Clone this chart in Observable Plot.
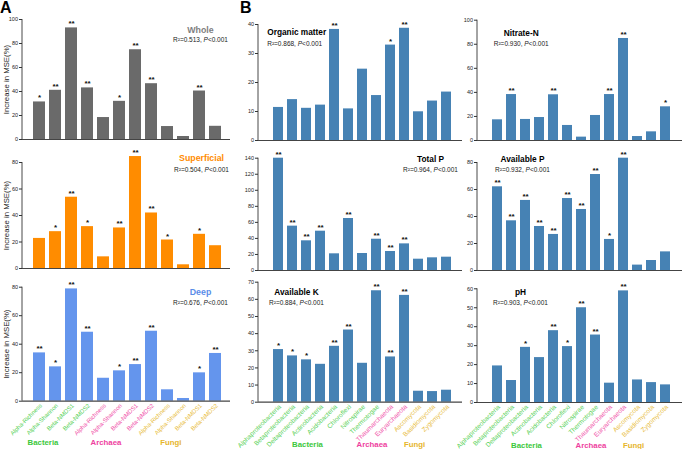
<!DOCTYPE html>
<html><head><meta charset="utf-8">
<script src="https://cdn.jsdelivr.net/npm/d3@7"></script>
<script src="https://cdn.jsdelivr.net/npm/@observablehq/plot@0.6"></script>
<style>
body{margin:0;background:#fff;font-family:"Liberation Sans",Arial,sans-serif}
#wrap{position:relative;width:685px;height:449px;overflow:hidden;background:#fff}
.p{position:absolute}
.lab{position:absolute;font-weight:bold;font-size:16px;line-height:16px;color:#000}
</style></head><body><div id="wrap"><div class="lab" style="left:0px;top:0px">A</div><div class="lab" style="left:240px;top:0px">B</div></div>
<script>
// ---------- Panel A data ----------
const taxaA = ["Bacteria", "Archaea", "Fungi"];
const indicesA = ["Alpha-Richness", "Alpha-Shannon", "Beta-NMDS1", "Beta-NMDS2"];
const wholeValues = [31.3, 41, 93, 43, 18.3, 31.8, 74.8, 46.5, 10.8, 2.5, 40.4, 11];
const wholeSig = ["*", "**", "**", "**", "", "*", "**", "**", "", "", "**", ""];
const superficialValues = [22.7, 27.8, 53.8, 31.6, 8.8, 30.6, 84.5, 41.9, 21.5, 2.8, 25.8, 17.2];
const superficialSig = ["", "*", "**", "*", "", "**", "**", "**", "*", "", "*", ""];
const deepValues = [33.9, 24.1, 78.8, 48.4, 16.1, 21.3, 25.7, 49.1, 8, 1.9, 19.9, 33.5];
const deepSig = ["**", "*", "**", "**", "", "*", "**", "**", "", "", "*", "**"];

// ---------- Panel B data ----------
const taxaB = ["Alphaproteobacteria", "Betaproteobacteria", "Deltaproteobacteria", "Actinobacteria", "Acidobacteria", "Chloroflexi", "Nitrospirae", "Thermotogae", "Thaumarchaeota", "Euryarchaeota", "Ascomycota", "Basidiomycota", "Zygomycota"];
const taxaBGroup = ["Bacteria", "Bacteria", "Bacteria", "Bacteria", "Bacteria", "Bacteria", "Bacteria", "Bacteria", "Archaea", "Archaea", "Fungi", "Fungi", "Fungi"];
const organicValues = [11.4, 14.1, 11.1, 12.2, 38.3, 10.9, 24.6, 15.5, 32.9, 38.7, 9.9, 13.6, 16.7];
const organicSig = ["", "", "", "", "**", "", "", "", "*", "**", "", "", ""];
const nitrateValues = [17.2, 38.2, 17.5, 19.1, 38, 12.5, 2.8, 20.8, 38.2, 84.8, 3.3, 7.2, 28];
const nitrateSig = ["", "**", "", "", "**", "", "", "", "**", "**", "", "", "*"];
const totalPValues = [140, 55.3, 37, 49, 20.8, 64.8, 21.2, 39, 23.7, 33.2, 14.1, 15.8, 16.6];
const totalPSig = ["**", "**", "**", "**", "", "**", "", "**", "**", "**", "", "", ""];
const availPValues = [62, 36.8, 51.9, 32.6, 26.7, 53.3, 45.2, 71.1, 23, 83.2, 4, 7.4, 13.8];
const availPSig = ["**", "**", "**", "**", "**", "**", "**", "**", "*", "**", "", "", ""];
const availKValues = [30.7, 27, 24.7, 22.1, 32.6, 42.1, 22.7, 65, 26.4, 62.3, 6.4, 6.2, 7];
const availKSig = ["*", "*", "*", "", "**", "**", "", "**", "**", "**", "", "", ""];
const pHValues = [19.3, 11.6, 29.1, 23.7, 37.9, 29.5, 50, 35.6, 10.2, 58.9, 11.9, 10.5, 9.3];
const pHSig = ["", "", "*", "", "**", "*", "**", "**", "", "**", "", "", ""];

const groupColors = {Bacteria: "#3cc83c", Archaea: "#ee3fa0", Fungi: "#e6b52c"};
const labelColors = {Bacteria: "#55d055", Archaea: "#f050a8", Fungi: "#e8bc3c"};

const catsA = taxaA.flatMap(g => indicesA.map(m => ({key: g + " " + m, label: m, group: g})));
const catsB = taxaB.map((t, i) => ({key: t, label: t, group: taxaBGroup[i]}));

const FONT = "Liberation Sans, Arial, Helvetica, sans-serif";
const wrap = document.getElementById("wrap");

function panel(cfg) {
  const rows = cfg.cats.map((c, i) => ({...c, value: cfg.values[i], sig: cfg.sigs[i]}));
  const yMax = cfg.yTicks[cfg.yTicks.length - 1];
  const marks = [
    Plot.barY(rows, {x: "key", y: "value", fill: cfg.fill}),
    Plot.ruleY([0], {stroke: "#444", strokeWidth: 1.2}),
    (index, scales, values, dims) => {
      const l = d3.create("svg:line")
        .attr("x1", dims.marginLeft).attr("x2", dims.marginLeft)
        .attr("y1", scales.y(yMax)).attr("y2", scales.y(0))
        .attr("stroke", "#333").attr("stroke-width", 0.9);
      return l.node();
    },
    Plot.axisY({ticks: cfg.yTicks, tickSize: 3, tickPadding: 1.5, fontSize: 5.5, fill: "#222", stroke: "#333", label: null}),
    Plot.text(rows, {x: "key", y: "value", text: "sig", dy: -1.5, lineAnchor: "bottom", fontWeight: "bold", fontSize: 8, fill: "#111"}),
    Plot.text([cfg.title], {frameAnchor: "top-left", dx: cfg.tdx, dy: cfg.tdy, textAnchor: cfg.tAnchor || "middle", lineAnchor: "middle", fontWeight: "bold", fontSize: cfg.tSize || 8.3, fill: cfg.tColor || "#000", text: d => d}),
    Plot.text([cfg.r2], {frameAnchor: "top-left", dx: cfg.tdx, dy: cfg.rdy, textAnchor: cfg.tAnchor || "middle", lineAnchor: "middle", fontSize: 6.5, fill: "#222", text: d => d})
  ];
  if (cfg.yLabel) {
    marks.push(Plot.text([cfg.yLabel], {frameAnchor: "left", dx: -16, rotate: -90, textAnchor: "middle", lineAnchor: "middle", fontSize: 7.8, fill: "#222", text: d => d}));
  }
  if (cfg.showLabels) {
    marks.push(Plot.text(rows, {x: "key", text: "label", frameAnchor: "bottom", rotate: -45, textAnchor: "end", lineAnchor: "middle", dy: 3.5, dx: 1.5, fontSize: cfg.labelSize, fill: d => labelColors[d.group]}));
    for (const g of cfg.groupLabels) {
      marks.push(Plot.text([g], {x: "at", text: "group", frameAnchor: "bottom", dx: g.dx, dy: cfg.groupDy, textAnchor: "middle", lineAnchor: "middle", fontWeight: "bold", fontSize: 7.8, fill: d => groupColors[d.group]}));
    }
  }
  const svg = Plot.plot({
    width: cfg.width, height: cfg.height,
    marginLeft: cfg.ml, marginRight: cfg.mr, marginTop: cfg.mt, marginBottom: cfg.mb,
    x: {type: "band", domain: rows.map(d => d.key), range: cfg.range, padding: 0.27, axis: null},
    y: {domain: [0, yMax], axis: null},
    style: {background: "transparent", overflow: "visible", fontFamily: FONT},
    marks
  });
  // italic P in R² lines
  d3.select(svg).selectAll("text").each(function () {
    const t = this.textContent;
    const m = t.match(/^(R²=[\d.]+, )P(<[\d.]+)$/);
    if (m && this.childElementCount === 0) {
      const s = d3.select(this);
      s.text(null);
      s.append("tspan").text(m[1]);
      s.append("tspan").attr("font-style", "italic").text("P");
      s.append("tspan").text(m[2]);
    }
  });
  const div = document.createElement("div");
  div.className = "p";
  div.style.left = cfg.left + "px";
  div.style.top = cfg.top + "px";
  div.appendChild(svg);
  wrap.appendChild(div);
}

const ticks = (max, step) => d3.range(0, max + step / 2, step);

// Panel A
const A = {cats: catsA, left: 0, width: 232, ml: 22, mr: 2, range: [26.8, 226.6], yLabel: "Increase in MSE(%)", tSize: 8.8};
panel({...A, top: 0, height: 142, mt: 19, mb: 3, values: wholeValues, sigs: wholeSig, fill: "#6a6a6a", yTicks: ticks(100, 20),
  title: "Whole", tColor: "#7f7f7f", r2: "R²=0.513, P<0.001", tdx: 178, tdy: 11, rdy: 20});
panel({...A, top: 145, height: 126, mt: 17, mb: 3, values: superficialValues, sigs: superficialSig, fill: "#ff8c00", yTicks: ticks(80, 20),
  title: "Superficial", tColor: "#ff8c00", r2: "R²=0.504, P<0.001", tdx: 179, tdy: -4, rdy: 7});
panel({...A, top: 272, height: 177, mt: 14.7, mb: 48.3, values: deepValues, sigs: deepSig, fill: "#6495ed", yTicks: ticks(80, 20),
  title: "Deep", tColor: "#5a8de8", r2: "R²=0.676, P<0.001", tdx: 178, tdy: 5.3, rdy: 15.3,
  showLabels: true, labelSize: 6, groupDy: 41,
  groupLabels: [{group: "Bacteria", at: "Bacteria Alpha-Shannon", dx: -12.5}, {group: "Archaea", at: "Archaea Alpha-Shannon", dx: -13.5}, {group: "Fungi", at: "Fungi Alpha-Shannon", dx: -12.7}]});

// Panel B
const BL = {cats: catsB, left: 232, width: 232, ml: 26, mr: 2, range: [30.7, 229.7], fill: "#4682b4"};
const BR = {cats: catsB, left: 455, width: 230, ml: 22, mr: 3, range: [26.7, 225.7], fill: "#4682b4"};
const groupLabelsB = [{group: "Bacteria", at: "Actinobacteria", dx: -13}, {group: "Archaea", at: "Thaumarchaeota", dx: -18.5}, {group: "Fungi", at: "Basidiomycota", dx: -18}];

panel({...BL, top: 0, height: 143, mt: 24, mb: 3, values: organicValues, sigs: organicSig, yTicks: ticks(40, 10),
  title: "Organic matter", r2: "R²=0.868, P<0.001", tAnchor: "start", tdx: 8.7, tdy: 8, rdy: 19});
panel({...BR, top: 0, height: 143, mt: 19.7, mb: 3, values: nitrateValues, sigs: nitrateSig, yTicks: ticks(100, 20),
  title: "Nitrate-N", r2: "R²=0.930, P<0.001", tdx: 43.7, tdy: 13.3, rdy: 23.3});
panel({...BL, top: 145, height: 128, mt: 12.7, mb: 3, values: totalPValues, sigs: totalPSig, yTicks: ticks(140, 20),
  title: "Total P", r2: "R²=0.964, P<0.001", tdx: 172, tdy: 1.3, rdy: 11.3});
panel({...BR, top: 145, height: 128, mt: 17, mb: 3, values: availPValues, sigs: availPSig, yTicks: ticks(80, 20),
  title: "Available P", r2: "R²=0.932, P<0.001", tdx: 45, tdy: -3, rdy: 7});
panel({...BL, top: 272, height: 177, mt: 9.7, mb: 47.3, values: availKValues, sigs: availKSig, yTicks: ticks(70, 10),
  title: "Available K", r2: "R²=0.884, P<0.001", tdx: 38, tdy: 10, rdy: 20.3,
  showLabels: true, labelSize: 6.5, groupDy: 42.5, groupLabels: groupLabelsB});
panel({...BR, top: 272, height: 177, mt: 16.3, mb: 47, values: pHValues, sigs: pHSig, yTicks: ticks(60, 10),
  title: "pH", r2: "R²=0.903, P<0.001", tdx: 43, tdy: 3.7, rdy: 13.7,
  showLabels: true, labelSize: 6.5, groupDy: 42.5, groupLabels: groupLabelsB});
</script></body></html>
